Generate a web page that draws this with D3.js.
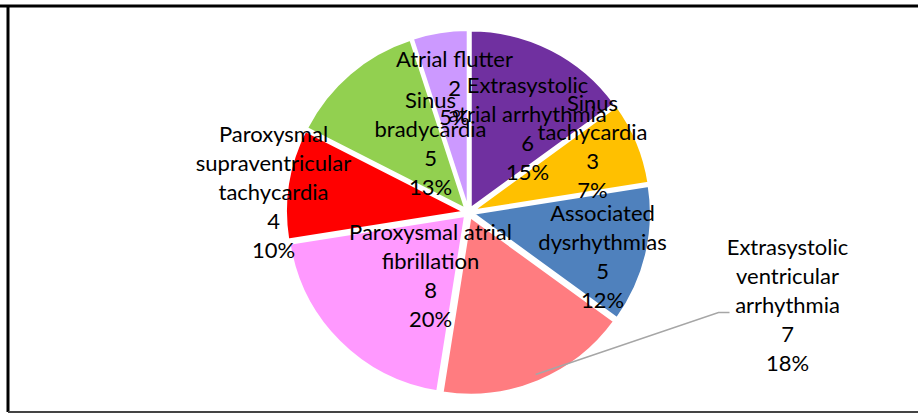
<!DOCTYPE html>
<html>
<head>
<meta charset="utf-8">
<script src="https://cdn.jsdelivr.net/npm/d3@7"></script>
<style>
  body { margin: 0; background: #fff; }
  .lbl { font-family: Lato, "Open Sans", sans-serif; font-size: 22px; fill: #000; }
</style>
</head>
<body>
<div class="pie"></div>
<script>
// categories, clockwise from 12 o'clock
var categories = [
  "Extrasystolic atrial arrhythmia",
  "Sinus tachycardia",
  "Associated dysrhythmias",
  "Extrasystolic ventricular arrhythmia",
  "Paroxysmal atrial fibrillation",
  "Paroxysmal supraventricular tachycardia",
  "Sinus bradycardia",
  "Atrial flutter"
];
var counts = [6, 3, 5, 7, 8, 4, 5, 2];
var percentLabels = ["15%", "7%", "12%", "18%", "20%", "10%", "13%", "5%"];
// how excel wrapped the category names
var nameLines = [
  ["Extrasystolic", "atrial arrhythmia"],
  ["Sinus", "tachycardia"],
  ["Associated", "dysrhythmias"],
  ["Extrasystolic", "ventricular", "arrhythmia"],
  ["Paroxysmal atrial", "fibrillation"],
  ["Paroxysmal", "supraventricular", "tachycardia"],
  ["Sinus", "bradycardia"],
  ["Atrial flutter"]
];

// colors
var colors = ["#7030A0", "#FFC000", "#4F81BD", "#FF7C80", "#FF99FF", "#FF0000", "#92D050", "#CC99FF"];

// label block centres, relative to pie centre
var labelOffset = [[59, -84], [124, -66], [134, 44], [319, 93], [-38, 63], [-195, -20], [-38, -69], [-14, -124]];

var width = 918, height = 414,
    cx = 468.5, cy = 212.5,
    radius = 177.5,
    explode = 5,
    lineH = 29;

var svg = d3.select(".pie").append("svg")
    .attr("width", width)
    .attr("height", height);

// frame
svg.append("line").attr("x1", 0).attr("x2", width).attr("y1", 6).attr("y2", 6)
    .attr("stroke", "#000").attr("stroke-width", 3);
svg.append("line").attr("x1", 8).attr("x2", 8).attr("y1", 6).attr("y2", 412)
    .attr("stroke", "#000").attr("stroke-width", 3);
svg.append("line").attr("x1", 8).attr("x2", width).attr("y1", 412).attr("y2", 412)
    .attr("stroke", "#444").attr("stroke-width", 2);

var data = categories.map(function(c, i) {
  return { name: c, count: counts[i], pct: percentLabels[i], lines: nameLines[i], i: i };
});

var pie = d3.pie()
    .sort(null)
    .value(function(d) { return d.count; });

var arc = d3.arc()
    .innerRadius(0)
    .outerRadius(radius);

var g = svg.append("g")
    .attr("transform", "translate(" + cx + "," + cy + ")");

var arcs = pie(data);

g.selectAll(".slice")
    .data(arcs)
  .enter().append("path")
    .attr("class", "slice")
    .attr("d", arc)
    .attr("transform", function(d) {
      var a = (d.startAngle + d.endAngle) / 2;
      return "translate(" + (Math.sin(a) * explode) + "," + (-Math.cos(a) * explode) + ")";
    })
    .style("fill", function(d) { return colors[d.data.i]; })
    .style("stroke", "#fff")
    .style("stroke-width", 2);

// leader line for the label placed outside
var ev = arcs[3];
var evMid = (ev.startAngle + ev.endAngle) / 2;
var evR = radius * 0.96 + explode;
var p0 = [Math.sin(evMid) * evR, -Math.cos(evMid) * evR];
var lbl = labelOffset[3];
var elbow = [lbl[0] - 69, lbl[1] + 7];
g.append("polyline")
    .attr("points", [p0, elbow, [elbow[0] + 11, elbow[1]]].map(function(p) { return p.join(","); }).join(" "))
    .attr("fill", "none")
    .attr("stroke", "#A6A6A6")
    .attr("stroke-width", 1.5);

// labels
var labels = g.selectAll(".lbl")
    .data(arcs)
  .enter().append("text")
    .attr("class", "lbl")
    .attr("text-anchor", "middle")
    .attr("transform", function(d) {
      var o = labelOffset[d.data.i];
      return "translate(" + o[0] + "," + o[1] + ")";
    });

labels.each(function(d) {
  var lines = d.data.lines.concat([String(d.data.count), d.data.pct]);
  var t = d3.select(this);
  var top = -(lines.length - 1) * lineH / 2;
  lines.forEach(function(s, k) {
    t.append("tspan")
      .attr("x", 0)
      .attr("y", top + k * lineH)
      .attr("dy", "0.35em")
      .text(s);
  });
});
</script>
</body>
</html>
